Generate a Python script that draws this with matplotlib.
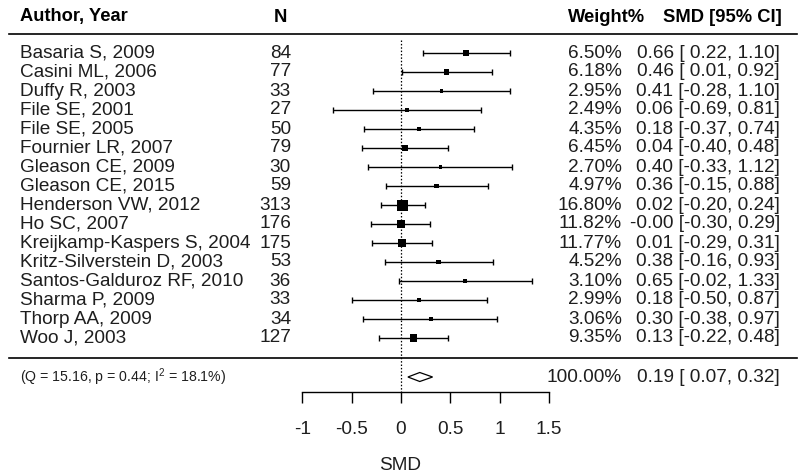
import numpy as np
import matplotlib
matplotlib.use("Agg")
import matplotlib.pyplot as plt
from matplotlib.transforms import blended_transform_factory
from matplotlib.ticker import StrMethodFormatter

# data
authors = ["Basaria S, 2009", "Casini ML, 2006", "Duffy R, 2003", "File SE, 2001",
           "File SE, 2005", "Fournier LR, 2007", "Gleason CE, 2009", "Gleason CE, 2015",
           "Henderson VW, 2012", "Ho SC, 2007", "Kreijkamp-Kaspers S, 2004",
           "Kritz-Silverstein D, 2003", "Santos-Galduroz RF, 2010", "Sharma P, 2009",
           "Thorp AA, 2009", "Woo J, 2003"]
n_subj = [84, 77, 33, 27, 50, 79, 30, 59, 313, 176, 175, 53, 36, 33, 34, 127]
weights = [6.50, 6.18, 2.95, 2.49, 4.35, 6.45, 2.70, 4.97, 16.80, 11.82, 11.77,
           4.52, 3.10, 2.99, 3.06, 9.35]
smd = [0.66, 0.46, 0.41, 0.06, 0.18, 0.04, 0.40, 0.36, 0.02, -0.001, 0.01,
       0.38, 0.65, 0.18, 0.30, 0.13]
ci_lo = [0.22, 0.01, -0.28, -0.69, -0.37, -0.40, -0.33, -0.15, -0.20, -0.30, -0.29,
         -0.16, -0.02, -0.50, -0.38, -0.22]
ci_hi = [1.10, 0.92, 1.10, 0.81, 0.74, 0.48, 1.12, 0.88, 0.24, 0.29, 0.31,
         0.93, 1.33, 0.87, 0.97, 0.48]

pooled_est, pooled_lo, pooled_hi = 0.19, 0.07, 0.32
q_stat, q_p, i2 = 15.16, 0.44, 18.1
axis_ticks = [-1, -0.5, 0, 0.5, 1, 1.5]

plt.rcParams["font.family"] = ["Liberation Sans", "DejaVu Sans"]
plt.rcParams["axes.unicode_minus"] = False
plt.rcParams["mathtext.fontset"] = "custom"
plt.rcParams["mathtext.rm"] = "Liberation Sans"

W, H = 800, 475
fig = plt.figure(figsize=(8, 4.75), dpi=100)
ax = fig.add_axes([0, 0, 1, 1])
# x in SMD units (0 at px 401, 98.7 px per unit), y in pixels from the top
x0, ppu = 401, 98.7
ax.set_xlim(-x0 / ppu, (W - x0) / ppu)
ax.set_ylim(H, 0)
tr = blended_transform_factory(ax.transAxes, ax.transData)

row_y0, row_h = 53, 19
ys = row_y0 + row_h * np.arange(len(authors))
txt_col = "#1e1e1e"
fs = 13.7

# header
hy = 17
ax.text(20 / W, hy, "Author, Year", transform=tr, ha="left", va="center",
        fontsize=13.2, fontweight="bold")
ax.text(280 / W, hy, "N", transform=tr, ha="center", va="center",
        fontsize=13.2, fontweight="bold")
ax.text(645 / W, hy, "Weight%", transform=tr, ha="right", va="center",
        fontsize=13.2, fontweight="bold")
ax.text(782 / W, hy, "SMD [95% CI]", transform=tr, ha="right", va="center",
        fontsize=13.2, fontweight="bold")
ax.axhline(34, xmin=9 / W, xmax=797 / W, color="black", lw=1.2)
ax.axhline(358, xmin=9 / W, xmax=797 / W, color="black", lw=1.2)

for y, a, n, w, e, lo, hi in zip(ys, authors, n_subj, weights, smd, ci_lo, ci_hi):
    ax.text(20 / W, y, a, transform=tr, ha="left", va="center", fontsize=fs, color=txt_col)
    ax.text(291 / W, y, str(n), transform=tr, ha="right", va="center", fontsize=fs, color=txt_col)
    ax.text(622 / W, y, f"{w:.2f}%", transform=tr, ha="right", va="center", fontsize=fs, color=txt_col)
    ax.text(780 / W, y, f"{e:.2f} [{lo:5.2f}, {hi:.2f}]", transform=tr, ha="right",
            va="center", fontsize=fs, color=txt_col)

# reference line at 0
ax.vlines(0, 40, 392, colors="black", linestyles=(0, (1.2, 1.5)), lw=0.9)

# study estimates
smd_a = np.array(smd)
ax.errorbar(smd_a, ys, xerr=[smd_a - np.array(ci_lo), np.array(ci_hi) - smd_a],
            fmt="none", ecolor="black", elinewidth=1, capsize=1.9, capthick=1)
wa = np.array(weights)
side_px = 3.5 + (wa - wa.min()) / (wa.max() - wa.min()) * 7.5
ax.scatter(smd_a, ys, s=(side_px * 0.72) ** 2, marker="s", color="black",
           linewidths=0, zorder=3)

# pooled estimate
sy = 377
ax.fill([pooled_lo, pooled_est, pooled_hi, pooled_est], [sy, sy - 4.5, sy, sy + 4.5],
        facecolor="white", edgecolor="black", lw=0.9, zorder=3)
ax.text(20 / W, sy, f"(Q = {q_stat:.2f}, p = {q_p:.2f}; $\\mathrm{{I}}^2$ = {i2:.1f}%)",
        transform=tr, ha="left", va="center", fontsize=10.2, color=txt_col)
ax.text(622 / W, sy, "100.00%", transform=tr, ha="right", va="center", fontsize=fs, color=txt_col)
ax.text(780 / W, sy, f"{pooled_est:.2f} [{pooled_lo:5.2f}, {pooled_hi:.2f}]", transform=tr,
        ha="right", va="center", fontsize=fs, color=txt_col)

# x axis
for s in ["top", "left", "right"]:
    ax.spines[s].set_visible(False)
ax.spines["bottom"].set_position(("data", 392))
ax.spines["bottom"].set_bounds(axis_ticks[0], axis_ticks[-1])
ax.spines["bottom"].set_linewidth(1)
ax.set_xticks(axis_ticks)
ax.xaxis.set_major_formatter(StrMethodFormatter("{x:g}"))
ax.tick_params(axis="x", direction="out", length=7.9, width=1, pad=13.3,
               labelsize=fs, labelcolor=txt_col)
ax.set_yticks([])
ax.set_xlabel("SMD", fontsize=fs, color=txt_col, labelpad=13.6)
ax.patch.set_visible(False)

fig.savefig("out.png", dpi=100)
